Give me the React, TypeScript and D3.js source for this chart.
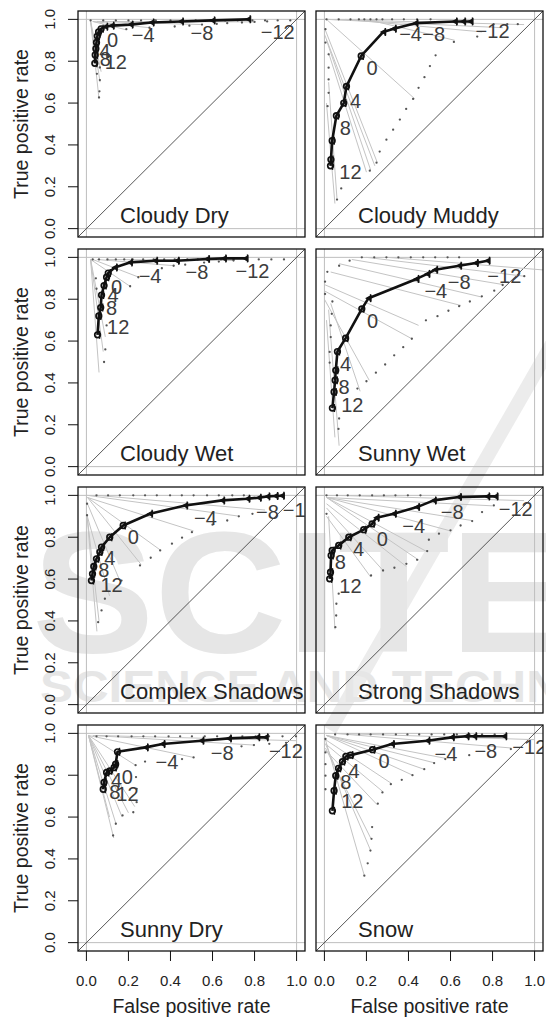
import { useEffect, useRef } from "react";
import * as d3 from "d3";

// panel order: row by row, left then right
const panelNames = [
  "Cloudy Dry", "Cloudy Muddy", "Cloudy Wet", "Sunny Wet",
  "Complex Shadows", "Strong Shadows", "Sunny Dry", "Snow",
];

// main ROC curve points [fpr, tpr], threshold 12 -> -12
const curves = [
  [[0.04,0.79],[0.042,0.83],[0.045,0.86],[0.048,0.89],[0.052,0.92],[0.058,0.94],[0.07,0.955],[0.09,0.965],[0.12,0.97],[0.21,0.975],[0.31,0.985],[0.45,0.99],[0.6,0.995],[0.77,1.0]],
  [[0.029,0.30],[0.031,0.33],[0.037,0.42],[0.057,0.54],[0.092,0.60],[0.105,0.68],[0.175,0.825],[0.28,0.94],[0.33,0.955],[0.433,0.982],[0.62,0.99],[0.66,0.99],[0.695,0.99]],
  [[0.053,0.63],[0.059,0.72],[0.068,0.76],[0.072,0.82],[0.084,0.865],[0.096,0.905],[0.104,0.925],[0.135,0.952],[0.207,0.976],[0.327,0.984],[0.43,0.984],[0.574,0.992],[0.654,0.995],[0.757,0.995]],
  [[0.038,0.28],[0.046,0.357],[0.051,0.413],[0.054,0.46],[0.062,0.55],[0.101,0.614],[0.178,0.754],[0.21,0.805],[0.438,0.897],[0.49,0.921],[0.527,0.941],[0.641,0.96],[0.72,0.973],[0.776,0.984]],
  [[0.024,0.593],[0.029,0.625],[0.035,0.66],[0.048,0.697],[0.064,0.729],[0.072,0.753],[0.111,0.80],[0.175,0.856],[0.303,0.912],[0.47,0.952],[0.646,0.976],[0.766,0.984],[0.82,0.989],[0.861,0.995],[0.9,0.997],[0.93,0.998]],
  [[0.025,0.601],[0.029,0.633],[0.032,0.713],[0.037,0.737],[0.068,0.761],[0.116,0.80],[0.187,0.836],[0.227,0.864],[0.248,0.893],[0.33,0.912],[0.441,0.944],[0.52,0.976],[0.64,0.992],[0.775,0.995],[0.814,0.995]],
  [[0.08,0.733],[0.084,0.766],[0.096,0.813],[0.111,0.821],[0.132,0.837],[0.139,0.853],[0.148,0.912],[0.282,0.933],[0.362,0.949],[0.547,0.965],[0.678,0.976],[0.813,0.981],[0.853,0.981]],
  [[0.038,0.63],[0.046,0.726],[0.054,0.798],[0.067,0.833],[0.086,0.865],[0.102,0.89],[0.125,0.896],[0.229,0.922],[0.321,0.949],[0.49,0.965],[0.606,0.981],[0.676,0.986],[0.713,0.986],[0.856,0.986]],
];

// index of the threshold-0 point (circles up to it, triangles after)
const zeroIdx = [6, 6, 6, 6, 7, 7, 6, 7];

// threshold labels [text, x, y]
const thresholdLabels = [
  [["12",0.14,0.795],["8",0.09,0.812],["4",0.088,0.85],["0",0.125,0.9],["−4",0.27,0.925],["−8",0.55,0.937],["−12",0.91,0.94]],
  [["12",0.124,0.27],["8",0.10,0.48],["4",0.148,0.61],["0",0.227,0.77],["−4",0.41,0.93],["−8",0.52,0.93],["−12",0.80,0.945]],
  [["12",0.151,0.667],["8",0.12,0.76],["4",0.127,0.82],["0",0.143,0.86],["−4",0.303,0.913],["−8",0.526,0.929],["−12",0.79,0.937]],
  [["12",0.133,0.294],["8",0.094,0.381],["4",0.101,0.492],["0",0.229,0.694],["−4",0.53,0.841],["−8",0.641,0.881],["−12",0.856,0.91]],
  [["12",0.12,0.574],["8",0.083,0.644],["4",0.111,0.702],["0",0.223,0.80],["−4",0.566,0.893],["−8",0.861,0.92],["−12",1.015,0.931]],
  [["12",0.124,0.569],["8",0.076,0.681],["4",0.163,0.745],["0",0.275,0.793],["−4",0.425,0.856],["−8",0.608,0.92],["−12",0.91,0.936]],
  [["12",0.195,0.711],["8",0.135,0.719],["4",0.143,0.775],["0",0.195,0.791],["−4",0.383,0.861],["−8",0.646,0.906],["−12",0.949,0.917]],
  [["12",0.133,0.678],["8",0.102,0.766],["4",0.141,0.821],["0",0.284,0.869],["−4",0.578,0.901],["−8",0.768,0.917],["−12",0.975,0.933]],
];

// dotted outer curves [x, y]
const dotPoints = [
  [[0.02,0.995],[0.08,0.995],[0.14,0.995],[0.2,0.995],[0.26,0.995],[0.33,0.995],[0.4,0.995],[0.46,0.995],[0.52,0.995],[0.59,0.995],[0.66,0.995],[0.72,0.995],[0.79,0.995],[0.85,0.995],[0.91,0.995],[0.97,0.995],
   [0.19,0.953],[0.3,0.96],[0.42,0.966],[0.49,0.97],[0.55,0.975],[0.62,0.978],[0.67,0.982],[0.74,0.985],[0.8,0.988],[0.86,0.99],
   [0.064,0.77],[0.064,0.71],[0.062,0.656],[0.06,0.627],[0.05,0.74]],
  [[0.01,1],[0.068,1],[0.124,1],[0.164,1],[0.19,1],[0.219,1],[0.248,1],[0.276,1],[0.322,1],[0.378,1],[0.441,1],[0.505,1],[0.805,0.977],[0.87,0.977],[0.92,0.977],
   [0.727,0.918],[0.616,0.892],[0.529,0.828],[0.502,0.777],[0.476,0.724],[0.448,0.673],[0.422,0.62],[0.389,0.572],[0.359,0.521],[0.327,0.473],[0.295,0.425],[0.263,0.368],[0.248,0.315],[0.216,0.277],[0.08,0.192],[0.06,0.139],
   [0.005,0.953],[0.005,0.889],[0.02,0.833],[0.02,0.769],[0.02,0.713],[0.02,0.649],[0.015,0.585]],
  [[0.03,0.99],[0.06,0.99],[0.1,0.99],[0.14,0.99],[0.18,0.99],[0.22,0.99],[0.27,0.99],[0.32,0.99],[0.37,0.99],[0.42,0.99],[0.48,0.99],[0.53,0.99],[0.58,0.99],[0.64,0.99],[0.7,0.99],[0.76,0.99],[0.82,0.99],[0.88,0.99],[0.94,0.99],
   [0.208,0.862],[0.247,0.905],[0.359,0.948],[0.415,0.96],[0.47,0.965],[0.56,0.975],[0.63,0.98],[0.7,0.985],
   [0.096,0.675],[0.09,0.56],[0.084,0.5],[0.045,0.9],[0.048,0.85]],
  [[0.178,1],[0.237,1],[0.295,1],[0.352,1],[0.411,1],[0.47,1],[0.527,1],[0.586,1],[0.641,1],[0.12,0.984],[0.07,0.96],[0.014,0.931],[0.003,0.884],[0.003,0.825],
   [0.951,0.91],[0.848,0.868],[0.808,0.841],[0.749,0.814],[0.692,0.789],[0.641,0.767],[0.59,0.745],[0.538,0.719],[0.483,0.699],[0.416,0.611],[0.375,0.571],[0.332,0.532],[0.289,0.488],[0.245,0.449],[0.2,0.408],[0.157,0.373],
   [0.038,0.789],[0.035,0.73],[0.03,0.675],[0.03,0.619],[0.025,0.548],[0.025,0.497],[0.07,0.23],[0.067,0.18]],
  [[0.048,1],[0.103,1],[0.159,1],[0.223,1],[0.279,1],[0.335,1],[0.398,1],[0.454,1],[0.51,1],[0.574,1],[0.63,1],[0.694,1],[0.749,1],[0.003,0.96],[0.003,0.905],
   [0.79,0.912],[0.725,0.9],[0.67,0.88],[0.6,0.86],[0.502,0.824],[0.455,0.798],[0.407,0.769],[0.351,0.737],[0.306,0.702],[0.255,0.665],[0.167,0.593],[0.088,0.506],[0.072,0.45],[0.056,0.394]],
  [[0.01,1],[0.06,1],[0.111,1],[0.168,1],[0.227,1],[0.283,1],[0.338,1],[0.397,1],[0.457,1],[0.01,0.912],
   [0.806,0.952],[0.75,0.92],[0.703,0.877],[0.648,0.856],[0.6,0.833],[0.545,0.817],[0.497,0.788],[0.489,0.734],[0.441,0.692],[0.39,0.673],[0.333,0.654],[0.279,0.641],[0.222,0.617],[0.068,0.53],[0.057,0.482],[0.056,0.426],[0.052,0.37]],
  [[0.048,0.986],[0.096,0.986],[0.151,0.986],[0.215,0.986],[0.271,0.986],[0.327,0.986],[0.391,0.986],[0.446,0.986],[0.502,0.986],[0.563,0.986],[0.622,0.986],[0.686,0.986],[0.742,0.986],[0.805,0.986],[0.869,0.986],[0.933,0.986],[0.997,0.986],
   [0.234,0.848],[0.279,0.865],[0.455,0.877],[0.51,0.885],[0.738,0.938],[0.797,0.944],[0.87,0.95],[0.95,0.955],
   [0.236,0.791],[0.239,0.735],[0.239,0.671],[0.223,0.623],[0.172,0.608],[0.14,0.568],[0.127,0.512]],
  [[0.051,0.995],[0.11,0.995],[0.165,0.995],[0.22,0.995],[0.279,0.995],[0.34,0.995],[0.395,0.995],[0.451,0.995],[0.51,0.995],[0.57,0.995],[0.63,0.995],[0.69,0.995],[0.75,0.995],[0.81,0.995],
   [0.005,0.973],[0.005,0.909],[0.005,0.853],[0.005,0.798],[0.005,0.733],
   [0.887,0.925],[0.689,0.896],[0.575,0.877],[0.522,0.858],[0.475,0.829],[0.419,0.8],[0.368,0.778],[0.316,0.757],[0.276,0.718],[0.254,0.664],[0.227,0.552],[0.224,0.496],[0.219,0.44],[0.206,0.379],[0.19,0.32]],
];

// grey connector lines [x1, y1, x2, y2]
const fanLines = [
  [[0.02,0.99,0.06,0.62],[0.02,0.99,0.07,0.75],[0.02,0.99,0.065,0.7],[0.03,0.99,0.19,0.95],[0.03,0.99,0.3,0.96],[0.05,0.99,0.55,0.975],[0.05,0.99,0.8,0.988]],
  [[0.01,1.0,0.43,0.62],[0.0,0.96,0.25,0.32],[0.0,0.93,0.24,0.30],[0.01,0.9,0.22,0.28],[0.02,0.84,0.2,0.27],[0.01,0.6,0.05,0.12],[0.02,0.7,0.06,0.14],[0.01,1.0,0.95,0.975],[0.01,1.0,0.85,0.96],[0.1,1.0,0.75,0.94],[0.2,1.0,0.62,0.9]],
  [[0.02,0.99,0.06,0.45],[0.02,0.99,0.08,0.55],[0.02,0.99,0.09,0.62],[0.02,0.99,0.21,0.86],[0.03,0.99,0.25,0.905],[0.05,0.99,0.42,0.96],[0.1,0.99,0.7,0.985]],
  [[0.0,0.87,0.448,0.675],[0.0,0.84,0.416,0.611],[0.0,0.8,0.213,0.413],[0.03,0.78,0.17,0.36],[0.02,0.75,0.07,0.1],[0.01,0.7,0.05,0.14],[0.13,0.99,0.85,0.87],[0.2,1.0,0.95,0.91],[0.3,1.0,1.04,0.94],[0.07,0.97,0.75,0.81],[0.03,0.93,0.65,0.77]],
  [[0.005,0.99,0.51,0.83],[0.005,0.99,0.35,0.74],[0.005,0.99,0.26,0.67],[0.005,0.96,0.16,0.59],[0.003,0.905,0.11,0.52],[0.003,0.905,0.06,0.4],[0.003,0.905,0.05,0.35],[0.005,1.0,0.73,0.9],[0.05,1.0,0.85,0.93]],
  [[0.01,0.99,0.49,0.73],[0.01,0.99,0.45,0.69],[0.01,0.99,0.6,0.83],[0.01,0.99,0.7,0.88],[0.01,0.99,0.8,0.95],[0.05,1.0,0.95,0.975],[0.01,0.96,0.39,0.66],[0.01,0.94,0.28,0.64],[0.02,0.9,0.05,0.36],[0.01,0.9,0.22,0.61]],
  [[0.01,0.99,0.13,0.5],[0.01,0.99,0.14,0.57],[0.01,0.99,0.17,0.6],[0.01,0.99,0.2,0.62],[0.01,0.99,0.23,0.65],[0.01,0.99,0.11,0.6],[0.01,0.99,0.23,0.85],[0.01,0.99,0.51,0.885],[0.05,0.99,1.0,0.965],[0.03,0.99,0.8,0.944]],
  [[0.005,0.97,0.19,0.32],[0.005,0.95,0.22,0.44],[0.005,0.93,0.22,0.5],[0.005,0.92,0.25,0.66],[0.005,0.95,0.28,0.72],[0.005,0.97,0.32,0.76],[0.01,0.99,0.47,0.83],[0.01,0.99,0.52,0.86],[0.01,0.99,0.58,0.88],[0.05,1.0,0.89,0.93],[0.05,1.0,1.0,0.97],[0.01,0.99,0.42,0.8]],
];

const axisTicks = [0, 0.2, 0.4, 0.6, 0.8, 1.0];

const App = () => {
  const ref = useRef(null);

  useEffect(() => {
    const svg = d3.select(ref.current);
    svg.selectAll("*").remove();

    const font = "'Liberation Sans', Arial, Helvetica, sans-serif";
    const colLeft = [78, 316];
    const rowTop = [11, 249, 487, 725];
    const boxW = 227;
    const boxH = 226;

    // faint publisher watermark behind the plots
    const wm = svg.append("g").attr("fill", "#e6e6e6").attr("font-family", font).attr("font-weight", "bold");
    wm.append("line")
      .attr("x1", 560).attr("y1", 330).attr("x2", 330).attr("y2", 730)
      .attr("stroke", "#ececec").attr("stroke-width", 14);
    wm.append("text")
      .attr("x", 32).attr("y", 652)
      .attr("font-size", 172)
      .attr("textLength", 540).attr("lengthAdjust", "spacingAndGlyphs")
      .text("SCITE");
    wm.append("text")
      .attr("x", 40).attr("y", 702)
      .attr("font-size", 44)
      .attr("textLength", 700).attr("lengthAdjust", "spacingAndGlyphs")
      .text("SCIENCE AND TECHNOLOGY");

    const x = d3.scaleLinear().domain([-0.04, 1.04]).range([0, boxW]);
    const y = d3.scaleLinear().domain([-0.04, 1.04]).range([boxH, 0]);

    panelNames.forEach((name, p) => {
      const col = p % 2;
      const row = Math.floor(p / 2);
      const g = svg
        .append("g")
        .attr("transform", `translate(${colLeft[col]},${rowTop[row]})`);

      const clipId = `clip${p}`;
      g.append("clipPath")
        .attr("id", clipId)
        .append("rect")
        .attr("width", boxW)
        .attr("height", boxH);

      const inner = g.append("g").attr("clip-path", `url(#${clipId})`);

      // reference lines at 0 and 1
      [0, 1].forEach((v) => {
        inner.append("line")
          .attr("x1", x(v)).attr("x2", x(v))
          .attr("y1", 0).attr("y2", boxH)
          .attr("stroke", "#bebebe").attr("stroke-width", 1);
        inner.append("line")
          .attr("x1", 0).attr("x2", boxW)
          .attr("y1", y(v)).attr("y2", y(v))
          .attr("stroke", "#bebebe").attr("stroke-width", 1);
      });

      // chance diagonal
      inner.append("line")
        .attr("x1", x(-0.04)).attr("y1", y(-0.04))
        .attr("x2", x(1.04)).attr("y2", y(1.04))
        .attr("stroke", "#444").attr("stroke-width", 0.9);

      // grey connectors
      inner.append("g")
        .selectAll("line")
        .data(fanLines[p])
        .join("line")
        .attr("x1", (d) => x(d[0])).attr("y1", (d) => y(d[1]))
        .attr("x2", (d) => x(d[2])).attr("y2", (d) => y(d[3]))
        .attr("stroke", "#c4c4c4").attr("stroke-width", 1);

      // dotted outer curve
      inner.append("g")
        .selectAll("circle")
        .data(dotPoints[p])
        .join("circle")
        .attr("cx", (d) => x(d[0])).attr("cy", (d) => y(d[1]))
        .attr("r", 1.15)
        .attr("fill", "#555");

      // threshold labels
      inner.append("g")
        .attr("font-family", font)
        .attr("font-size", 20)
        .attr("fill", "#3c3c3c")
        .attr("text-anchor", "middle")
        .selectAll("text")
        .data(thresholdLabels[p])
        .join("text")
        .attr("x", (d) => x(d[1]))
        .attr("y", (d) => y(d[2]) + 7)
        .text((d) => d[0]);

      // main curve
      const line = d3.line().x((d) => x(d[0])).y((d) => y(d[1]));
      inner.append("path")
        .datum(curves[p])
        .attr("d", line)
        .attr("fill", "none")
        .attr("stroke", "#111")
        .attr("stroke-width", 2.6)
        .attr("stroke-linejoin", "round");

      const marks = inner.append("g");
      curves[p].forEach((d, i) => {
        const cx = x(d[0]);
        const cy = y(d[1]);
        if (i <= zeroIdx[p]) {
          marks.append("circle")
            .attr("cx", cx).attr("cy", cy).attr("r", 2.8)
            .attr("fill", "none").attr("stroke", "#111").attr("stroke-width", 1.7);
        } else {
          marks.append("path")
            .attr("d", `M${cx + 3},${cy - 3.5}L${cx - 3.5},${cy}L${cx + 3},${cy + 3.5}Z`)
            .attr("fill", "#111");
        }
        marks.append("line")
          .attr("x1", cx + 2).attr("x2", cx + 2)
          .attr("y1", cy - 4).attr("y2", cy + 4)
          .attr("stroke", "#111").attr("stroke-width", 1.4);
      });

      // panel title
      g.append("text")
        .attr("x", x(0.16))
        .attr("y", y(0.028))
        .attr("font-family", font)
        .attr("font-size", 22)
        .attr("fill", "#222")
        .text(name);

      // box
      g.append("rect")
        .attr("width", boxW).attr("height", boxH)
        .attr("fill", "none")
        .attr("stroke", "#111").attr("stroke-width", 1.3);

      // y axis on left column
      if (col === 0) {
        const ya = g.append("g");
        axisTicks.forEach((t) => {
          ya.append("line")
            .attr("x1", -10).attr("x2", 0)
            .attr("y1", y(t)).attr("y2", y(t))
            .attr("stroke", "#111").attr("stroke-width", 1);
          ya.append("text")
            .attr("transform", `translate(${-23},${y(t)}) rotate(-90)`)
            .attr("text-anchor", "middle")
            .attr("font-family", font)
            .attr("font-size", 15)
            .attr("fill", "#222")
            .text(t.toFixed(1));
        });
        ya.append("text")
          .attr("transform", `translate(${-50},${boxH / 2}) rotate(-90)`)
          .attr("text-anchor", "middle")
          .attr("font-family", font)
          .attr("font-size", 19.5)
          .attr("fill", "#222")
          .text("True positive rate");
      }

      // x axis on bottom row
      if (row === 3) {
        const xa = g.append("g").attr("transform", `translate(0,${boxH})`);
        axisTicks.forEach((t) => {
          xa.append("line")
            .attr("x1", x(t)).attr("x2", x(t))
            .attr("y1", 0).attr("y2", 10)
            .attr("stroke", "#111").attr("stroke-width", 1);
          xa.append("text")
            .attr("x", x(t)).attr("y", 35)
            .attr("text-anchor", "middle")
            .attr("font-family", font)
            .attr("font-size", 15)
            .attr("fill", "#222")
            .text(t.toFixed(1));
        });
        xa.append("text")
          .attr("x", boxW / 2).attr("y", 62)
          .attr("text-anchor", "middle")
          .attr("font-family", font)
          .attr("font-size", 19.5)
          .attr("fill", "#222")
          .text("False positive rate");
      }
    });
  }, []);

  return (
    <svg
      ref={ref}
      width={546}
      height={1019}
      style={{ position: "absolute", left: 0, top: 0, background: "#fff" }}
    />
  );
};

export default App;
